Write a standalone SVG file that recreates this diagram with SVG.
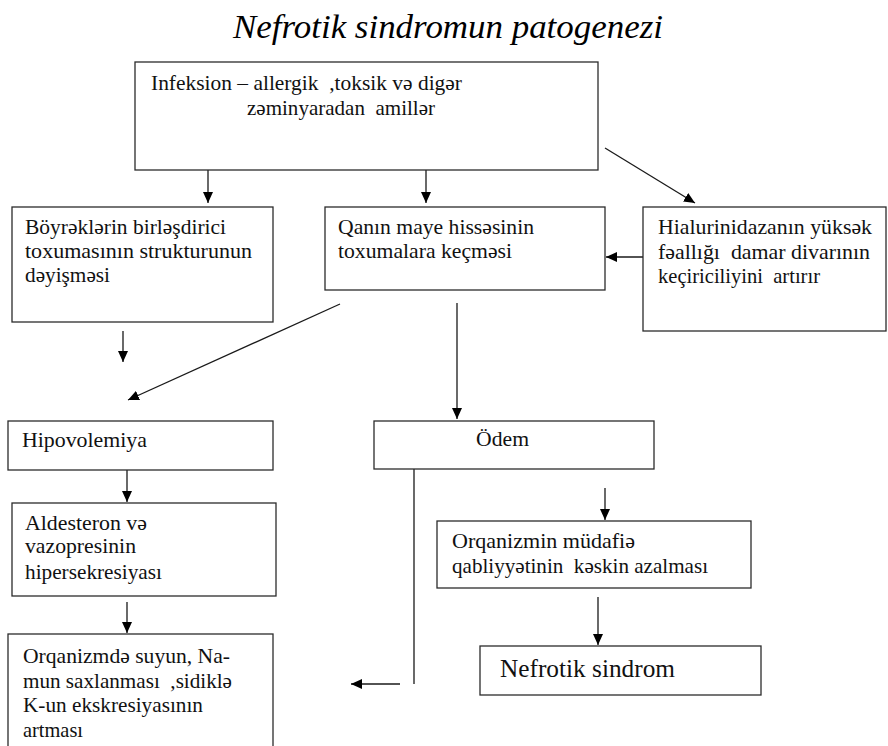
<svg xmlns="http://www.w3.org/2000/svg" width="888" height="746" viewBox="0 0 888 746">
  <style>
    .box { fill: #ffffff; stroke: #2b2b2b; stroke-width: 1.3; }
    text { font-family: 'Liberation Serif', Tinos, 'DejaVu Serif', 'Times New Roman', serif; fill: #111; }
    .t { font-size: 21px; }
    .big { font-size: 25px; }
    .title { font-size: 34px; font-style: italic; fill: #000; }
    .edge { stroke: #1a1a1a; stroke-width: 1.3; fill: none; }
  </style>
  <defs>
    <marker id="arrow" markerUnits="userSpaceOnUse" markerWidth="12" markerHeight="10" refX="11" refY="5" orient="auto">
      <path d="M0,0 L11,5 L0,10 Z" fill="#000"/>
    </marker>
  </defs>
  <rect width="888" height="746" fill="#ffffff"/>

  <text class="title" x="233" y="38" textLength="430" lengthAdjust="spacingAndGlyphs">Nefrotik sindromun patogenezi</text>

  <g id="connectors">
    <line class="edge" x1="208" y1="170" x2="208" y2="203" marker-end="url(#arrow)"/>
    <line class="edge" x1="426" y1="170" x2="426" y2="203" marker-end="url(#arrow)"/>
    <line class="edge" x1="605" y1="148" x2="695" y2="203" marker-end="url(#arrow)"/>
    <line class="edge" x1="643" y1="257" x2="606" y2="257" marker-end="url(#arrow)"/>
    <line class="edge" x1="123" y1="331" x2="123" y2="362" marker-end="url(#arrow)"/>
    <line class="edge" x1="340" y1="304" x2="128" y2="400" marker-end="url(#arrow)"/>
    <line class="edge" x1="457" y1="303" x2="457" y2="419" marker-end="url(#arrow)"/>
    <line class="edge" x1="127" y1="470" x2="127" y2="502" marker-end="url(#arrow)"/>
    <line class="edge" x1="127" y1="602" x2="127" y2="633" marker-end="url(#arrow)"/>
    <line class="edge" x1="414" y1="469" x2="414" y2="684"/>
    <line class="edge" x1="400" y1="684" x2="351" y2="684" marker-end="url(#arrow)"/>
    <line class="edge" x1="605" y1="488" x2="605" y2="520" marker-end="url(#arrow)"/>
    <line class="edge" x1="598" y1="597" x2="598" y2="645" marker-end="url(#arrow)"/>
  </g>

  <g id="factors">
    <rect class="box" x="135" y="62" width="463" height="108"/>
    <text class="t" x="151" y="90" xml:space="preserve" textLength="311" lengthAdjust="spacingAndGlyphs">Infeksion – allergik  ,toksik və digər</text>
    <text class="t" x="247" y="115" xml:space="preserve" textLength="188" lengthAdjust="spacingAndGlyphs">zəminyaradan  amillər</text>
  </g>

  <g id="kidney-tissue">
    <rect class="box" x="12" y="207" width="261" height="115"/>
    <text class="t" x="25" y="234" textLength="201" lengthAdjust="spacingAndGlyphs">Böyrəklərin birləşdirici</text>
    <text class="t" x="25" y="258" textLength="227" lengthAdjust="spacingAndGlyphs">toxumasının strukturunun</text>
    <text class="t" x="25" y="282" textLength="85" lengthAdjust="spacingAndGlyphs">dəyişməsi</text>
  </g>

  <g id="plasma-leak">
    <rect class="box" x="325" y="207" width="280" height="83"/>
    <text class="t" x="338" y="234" textLength="196" lengthAdjust="spacingAndGlyphs">Qanın maye hissəsinin</text>
    <text class="t" x="338" y="258" textLength="174" lengthAdjust="spacingAndGlyphs">toxumalara keçməsi</text>
  </g>

  <g id="hyaluronidase">
    <rect class="box" x="643" y="207" width="243" height="124"/>
    <text class="t" x="658" y="234" textLength="214" lengthAdjust="spacingAndGlyphs">Hialurinidazanın yüksək</text>
    <text class="t" x="658" y="259" xml:space="preserve" textLength="212" lengthAdjust="spacingAndGlyphs">fəallığı  damar divarının</text>
    <text class="t" x="658" y="283" xml:space="preserve" textLength="162" lengthAdjust="spacingAndGlyphs">keçiriciliyini  artırır</text>
  </g>

  <g id="hypovolemia">
    <rect class="box" x="8" y="421" width="265" height="49"/>
    <text class="t" x="22" y="447" textLength="125" lengthAdjust="spacingAndGlyphs">Hipovolemiya</text>
  </g>

  <g id="edema">
    <rect class="box" x="374" y="421" width="280" height="48"/>
    <text class="t" x="476" y="446" textLength="53" lengthAdjust="spacingAndGlyphs">Ödem</text>
  </g>

  <g id="aldosterone">
    <rect class="box" x="12" y="503" width="264" height="93"/>
    <text class="t" x="25" y="530" textLength="122" lengthAdjust="spacingAndGlyphs">Aldesteron və</text>
    <text class="t" x="25" y="553" textLength="111" lengthAdjust="spacingAndGlyphs">vazopresinin</text>
    <text class="t" x="25" y="579" textLength="137" lengthAdjust="spacingAndGlyphs">hipersekresiyası</text>
  </g>

  <g id="retention">
    <rect class="box" x="8" y="634" width="265" height="130"/>
    <text class="t" x="23" y="663" textLength="207" lengthAdjust="spacingAndGlyphs">Orqanizmdə suyun, Na-</text>
    <text class="t" x="23" y="688" xml:space="preserve" textLength="209" lengthAdjust="spacingAndGlyphs">mun saxlanması  ,sidiklə</text>
    <text class="t" x="23" y="712" textLength="180" lengthAdjust="spacingAndGlyphs">K-un ekskresiyasının</text>
    <text class="t" x="23" y="737" textLength="60" lengthAdjust="spacingAndGlyphs">artması</text>
  </g>

  <g id="defense">
    <rect class="box" x="437" y="521" width="314" height="67"/>
    <text class="t" x="452" y="548" textLength="183" lengthAdjust="spacingAndGlyphs">Orqanizmin müdafiə</text>
    <text class="t" x="452" y="573" xml:space="preserve" textLength="256" lengthAdjust="spacingAndGlyphs">qabliyyətinin  kəskin azalması</text>
  </g>

  <g id="nephrotic">
    <rect class="box" x="480" y="646" width="281" height="49"/>
    <text class="t big" x="500" y="677" textLength="175" lengthAdjust="spacingAndGlyphs">Nefrotik sindrom</text>
  </g>
</svg>
